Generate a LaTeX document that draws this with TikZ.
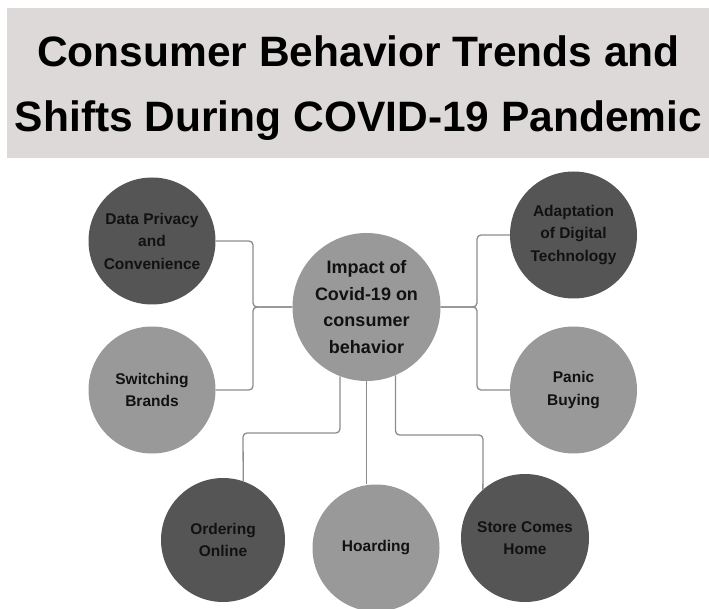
\documentclass[tikz,border=0pt]{standalone}
\usepackage{fontspec}
\setmainfont{Liberation Sans}
\usepackage{xcolor}
\usetikzlibrary{positioning}

\definecolor{bannergray}{HTML}{DDD9D9}
\definecolor{darkdisk}{HTML}{555555}
\definecolor{lightdisk}{HTML}{999999}
\definecolor{linkgray}{HTML}{8C8C8C}
\definecolor{inkblack}{HTML}{111111}

\tikzset{
  disk/.style={circle,inner sep=0pt,minimum size=127pt,align=center,text=inkblack,
    font=\bfseries\fontsize{15.5}{22.5}\selectfont},
  darkdisk/.style={disk,fill=darkdisk},
  lightdisk/.style={disk,fill=lightdisk},
  link/.style={draw=linkgray,line width=1.3pt,rounded corners=4pt}
}

\begin{document}
\begin{tikzpicture}[x=1pt,y=-1pt]
  \useasboundingbox (0,0) rectangle (709,609);
  % title banner
  \fill[bannergray] (7,8) rectangle (709,158);
  \node[inner sep=0pt,align=center,text=black,font=\bfseries\fontsize{42.5}{65}\selectfont]
    (title) at (358.5,88.4) {Consumer Behavior Trends and\\Shifts During COVID-19 Pandemic};

  % centre and branches
  \node[disk,fill=lightdisk,minimum size=148pt,font=\bfseries\fontsize{18}{26.5}\selectfont]
    (impact) at (366.5,307) {Impact of\\Covid-19 on\\consumer\\behavior};
  \node[darkdisk] (privacy) at (152,241) {Data Privacy\\and\\Convenience};
  \node[lightdisk] (brands) at (152,390) {Switching\\Brands};
  \node[darkdisk] (digital) at (573.5,235) {Adaptation\\of Digital\\Technology};
  \node[lightdisk] (panic) at (573.5,390) {Panic\\Buying};
  \node[darkdisk,minimum size=124pt] (online) at (223,540) {Ordering\\Online};
  \node[lightdisk] (hoarding) at (376,548) {Hoarding};
  \node[darkdisk,minimum size=128pt] (store) at (525,538) {Store Comes\\Home};

  % junctions and knees
  \coordinate (jl) at (253,307);
  \coordinate (jr) at (477,307);
  \coordinate (ko) at (243,433);
  \coordinate (ks) at (483,435);

  % connectors
  \draw[link] (privacy.east) -| (jl) -- (impact.west);
  \draw[link] (brands.east) -| (jl) -- (impact.west);
  \draw[link] (digital.west) -| (jr) -- (impact.east);
  \draw[link] (panic.west) -| (jr) -- (impact.east);
  \draw[link] (impact.-111) |- (ko) -- (online.71);
  \draw[link] (impact.south) -- (impact.south |- hoarding.north);
  \draw[link] (impact.-67) |- (ks) -- (store.131);
\end{tikzpicture}
\end{document}
